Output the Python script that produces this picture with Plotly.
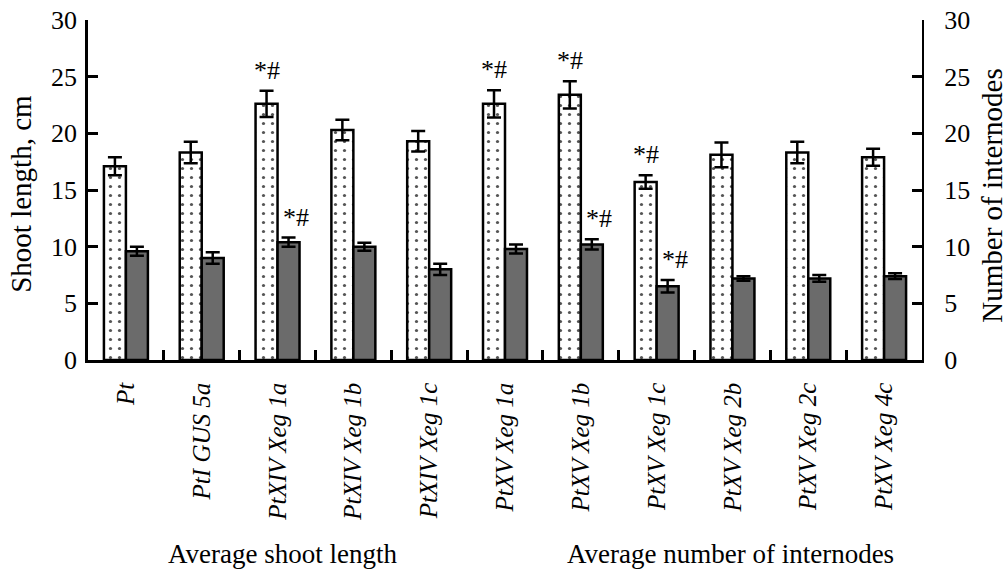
import plotly.graph_objects as go

categories = ["Pt", "PtI GUS 5a", "PtXIV Xeg 1a", "PtXIV Xeg 1b", "PtXIV Xeg 1c",
              "PtXV Xeg 1a", "PtXV Xeg 1b", "PtXV Xeg 1c", "PtXV Xeg 2b", "PtXV Xeg 2c", "PtXV Xeg 4c"]
shoot_length = [17.1, 18.3, 22.6, 20.3, 19.3, 22.6, 23.4, 15.7, 18.1, 18.3, 17.9]
shoot_err = [0.8, 0.95, 1.15, 0.9, 0.9, 1.2, 1.2, 0.6, 1.1, 0.95, 0.75]
internodes = [9.6, 9.0, 10.4, 10.0, 8.0, 9.8, 10.2, 6.5, 7.2, 7.2, 7.4]
intern_err = [0.4, 0.5, 0.4, 0.35, 0.5, 0.4, 0.45, 0.55, 0.2, 0.3, 0.25]
sig_shoot = ["PtXIV Xeg 1a", "PtXV Xeg 1a", "PtXV Xeg 1b", "PtXV Xeg 1c"]
sig_intern = ["PtXIV Xeg 1a", "PtXV Xeg 1b", "PtXV Xeg 1c"]

FONT = "Liberation Serif, Times New Roman, serif"

fig = go.Figure()
fig.add_trace(go.Bar(
    x=categories, y=shoot_length, name="Average shoot length", offsetgroup="1",
    marker=dict(color="white", line=dict(color="black", width=2.5),
                pattern=dict(shape=".", fgcolor="#555555", bgcolor="white", size=9, solidity=0.1)),
    error_y=dict(type="data", array=shoot_err, color="black", thickness=2.5, width=7),
    yaxis="y"))
fig.add_trace(go.Bar(
    x=categories, y=internodes, name="Average number of internodes", offsetgroup="2",
    marker=dict(color="#6b6b6b", line=dict(color="black", width=2.5)),
    error_y=dict(type="data", array=intern_err, color="black", thickness=2.5, width=7),
    yaxis="y2"))

annotations = []
for c in sig_shoot:
    i = categories.index(c)
    annotations.append(dict(x=c, y=shoot_length[i] + shoot_err[i], xref="x", yref="y",
                            text="*#", showarrow=False, xshift=-11, yshift=4, yanchor="bottom",
                            xanchor="center", font=dict(family=FONT, size=26, color="black")))
for c in sig_intern:
    i = categories.index(c)
    annotations.append(dict(x=c, y=internodes[i] + intern_err[i], xref="x", yref="y2",
                            text="*#", showarrow=False, xshift=18, yshift=4, yanchor="bottom",
                            xanchor="center", font=dict(family=FONT, size=26, color="black")))

annotations += [
    dict(x=0.2332, y=-0.5697, xref="paper", yref="paper", text="Average shoot length",
         xanchor="center", yanchor="middle", showarrow=False,
         font=dict(family=FONT, size=27, color="black")),
    dict(x=0.770, y=-0.5697, xref="paper", yref="paper", text="Average number of internodes",
         xanchor="center", yanchor="middle", showarrow=False,
         font=dict(family=FONT, size=27, color="black")),
    dict(x=-0.0803, y=0.489, xref="paper", yref="paper", text="Shoot length, cm", textangle=-90,
         xanchor="center", yanchor="middle", showarrow=False,
         font=dict(family=FONT, size=29, color="black")),
    dict(x=1.0839, y=0.486, xref="paper", yref="paper", text="Number of internodes", textangle=-90,
         xanchor="center", yanchor="middle", showarrow=False,
         font=dict(family=FONT, size=29, color="black")),
]

fig.update_layout(
    template="none",
    width=1008, height=573,
    margin=dict(l=88, r=86, t=19.5, b=213, autoexpand=False),
    paper_bgcolor="white", plot_bgcolor="white",
    barmode="group", bargap=0.42, bargroupgap=0,
    showlegend=False,
    font=dict(family=FONT, size=26, color="black"),
    xaxis=dict(showline=True, linecolor="black", linewidth=2.5, ticks="inside", ticklen=10,
               tickwidth=2.5, tickcolor="black", tickson="boundaries", tickangle=-90,
               automargin=False, ticklabelstandoff=10,
               tickfont=dict(family=FONT, size=25, style="italic"), showgrid=False, zeroline=False),
    yaxis=dict(range=[0, 30], dtick=5, showline=True, linecolor="black", linewidth=2.5,
               ticks="inside", ticklen=10, tickwidth=2.5, tickcolor="black", showgrid=False,
               zeroline=False, ticklabelstandoff=3, automargin=False, ticklabeloverflow="allow",
               tickfont=dict(family=FONT, size=26)),
    yaxis2=dict(range=[0, 30], dtick=5, overlaying="y", side="right", showline=True,
                linecolor="black", linewidth=2, ticks="inside", ticklen=10, tickwidth=2.5,
                tickcolor="black", showgrid=False, zeroline=False, ticklabelstandoff=15,
                automargin=False, ticklabeloverflow="allow", tickfont=dict(family=FONT, size=26)),
    annotations=annotations,
)

# Remove the default 8px page margin so the figure fills the window exactly.
fig.write_html("out.html", config={"displayModeBar": False},
               post_script="document.body.style.margin='0';document.body.style.overflow='hidden';")
